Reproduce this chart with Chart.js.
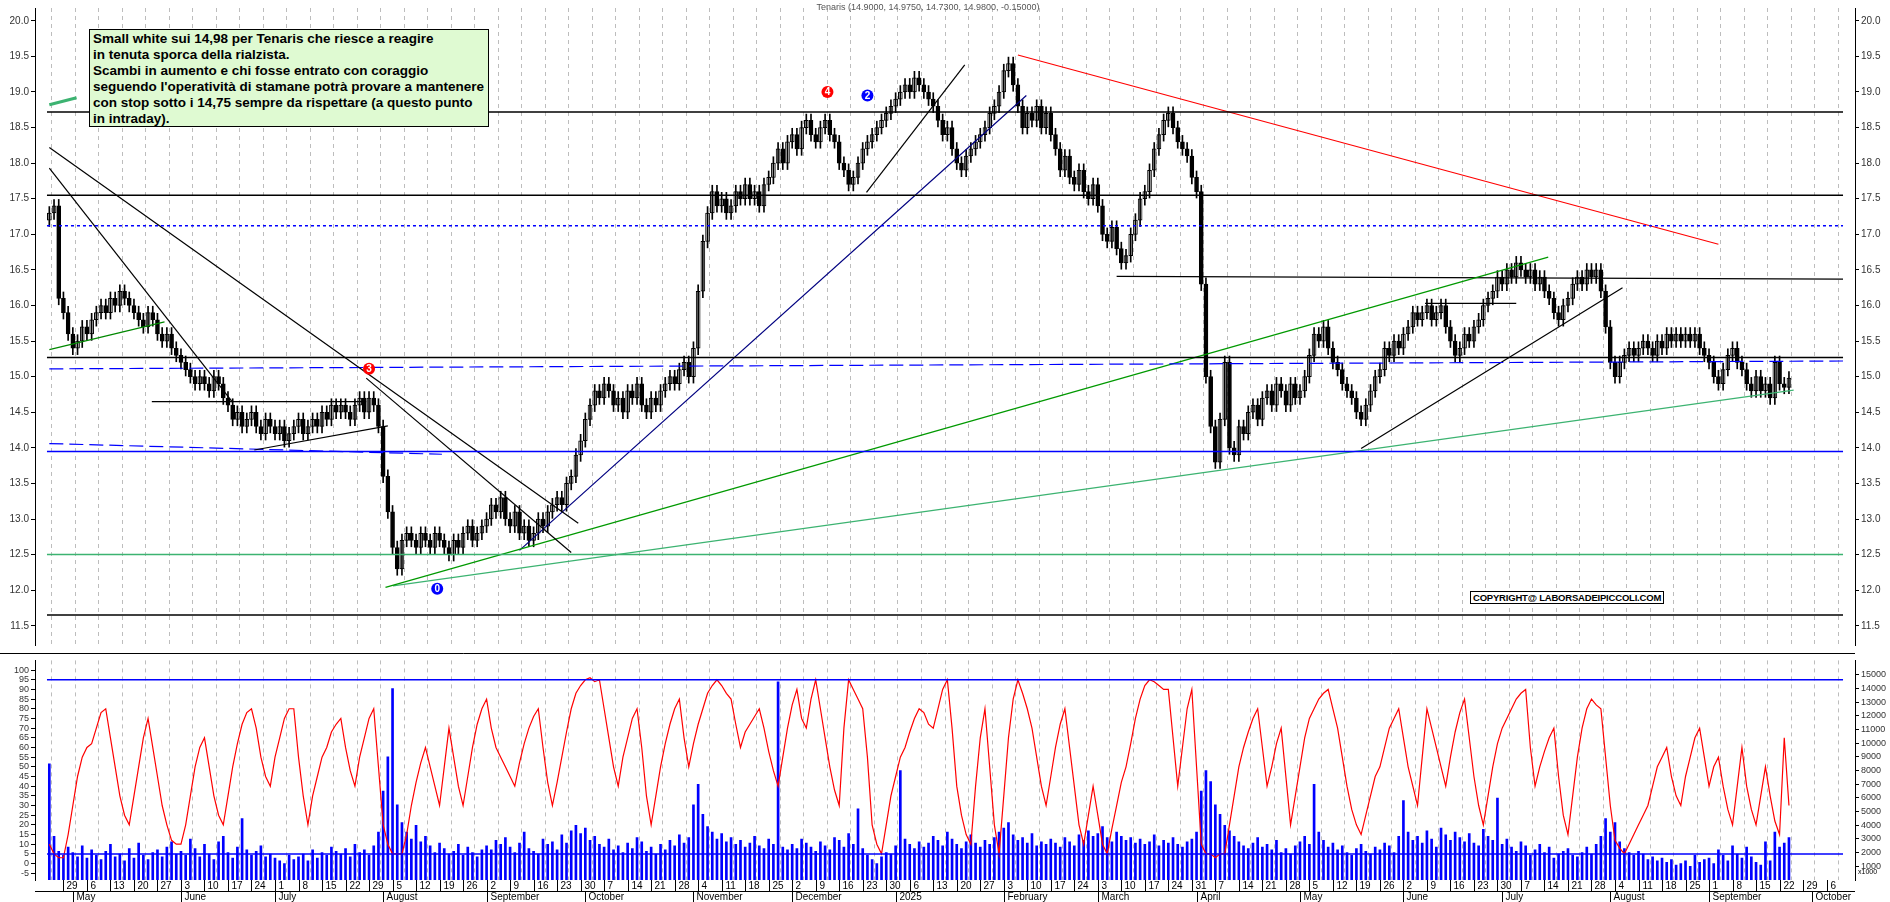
<!DOCTYPE html>
<html><head><meta charset="utf-8">
<script src="https://cdn.jsdelivr.net/npm/chart.js@4"></script>
<style>
body{margin:0;background:#fff;width:1890px;height:902px;overflow:hidden;position:relative;font-family:'Liberation Sans',Arial,sans-serif}
.w{position:absolute;left:0}
#note{position:absolute;left:89px;top:29px;width:400px;height:98px;background:#dffad2;border:1px solid #000;font:bold 13.5px 'Liberation Sans',Arial,sans-serif;line-height:16px;padding:1px 3px;box-sizing:border-box;color:#000;white-space:nowrap}
#title{position:absolute;left:0;width:1856px;top:2px;text-align:center;font:9px 'Liberation Sans',Arial,sans-serif;color:#555}
#copy{position:absolute;left:1470px;top:591px;border:1px solid #000;background:#fff;font:bold 9.5px 'Liberation Sans',Arial,sans-serif;padding:0 2px;line-height:11px;letter-spacing:-0.2px}
</style></head><body>
<div class="w" style="top:0;width:1890px;height:653px"><canvas id="a" width="1890" height="653"></canvas></div>
<div class="w" style="top:653px;width:1890px;height:249px"><canvas id="b" width="1890" height="249"></canvas></div>
<div id="title">Tenaris (14.9000, 14.9750, 14.7300, 14.9800, -0.15000)</div>
<div id="note">Small white sui 14,98 per Tenaris che riesce a reagire<br>in tenuta sporca della rialzista.<br>Scambi in aumento e chi fosse entrato con coraggio<br>seguendo l'operatività di stamane potrà provare a mantenere<br>con stop sotto i 14,75 sempre da rispettare (a questo punto<br>in intraday).</div>
<div id="copy">COPYRIGHT@ LABORSADEIPICCOLI.COM</div>
<script>
// ---- data ----
const closes = [
17.3,17.4,16.1,15.9,15.6,
15.4,15.5,15.7,15.6,15.8,15.9,16.0,15.9,16.1,16.0,16.2,16.1,16.0,15.9,15.8,15.7,15.9,15.8,15.6,15.5,15.6,15.4,15.3,
15.2,15.1,15.0,14.9,15.0,14.9,14.8,15.0,14.9,14.7,14.6,14.4,14.5,14.3,14.4,14.5,14.3,14.2,14.4,14.3,
14.2,14.3,14.1,14.2,14.3,14.4,14.2,14.3,14.4,14.3,14.5,14.4,14.6,14.5,14.6,14.5,14.4,14.6,14.7,14.5,14.7,14.6,14.3,
13.6,13.1,12.6,12.3,12.7,12.8,12.7,12.6,12.8,12.7,12.6,12.8,12.7,12.6,12.5,12.7,12.6,12.8,12.9,12.7,12.8,12.9,
13.0,13.2,13.1,13.3,13.0,12.9,13.1,12.8,12.9,12.7,12.8,13.0,12.9,13.1,13.2,13.3,13.2,13.5,13.6,13.9,14.1,
14.4,14.6,14.8,14.7,14.9,14.8,14.6,14.7,14.5,14.8,14.7,14.9,14.6,14.5,14.7,14.6,14.8,14.9,15.0,14.9,15.1,15.2,15.0,
15.4,16.2,16.9,17.3,17.6,17.4,17.5,17.3,17.4,17.6,17.5,17.7,17.5,17.6,17.4,17.7,17.8,18.0,18.2,18.0,18.3,
18.4,18.2,18.5,18.6,18.4,18.3,18.5,18.6,18.4,18.3,18.0,17.9,17.7,17.8,18.0,18.2,18.3,18.4,18.5,18.6,18.7,18.8,
18.9,19.0,19.1,19.0,19.2,19.1,19.0,18.9,18.8,18.6,18.4,18.5,18.2,18.0,17.9,18.1,18.2,18.3,18.4,18.5,18.7,18.8,19.0,
19.3,19.4,19.1,18.8,18.5,18.7,18.6,18.8,18.5,18.7,18.4,18.2,17.9,18.1,17.8,17.7,17.9,17.6,17.5,17.7,
17.4,17.0,16.9,17.1,16.8,16.6,16.7,17.0,17.2,17.5,17.6,17.9,18.2,18.4,18.6,18.7,18.5,18.3,18.2,18.1,17.8,
17.6,16.3,15.0,14.3,13.8,14.4,15.2,14.0,13.9,14.3,14.2,14.5,14.6,14.4,14.7,14.8,14.6,14.9,14.8,14.6,14.9,14.7,
14.8,15.0,15.3,15.6,15.5,15.7,15.4,15.2,15.1,14.9,14.8,14.7,14.5,14.4,14.6,14.8,15.0,15.1,15.4,15.3,15.5,15.4,
15.6,15.7,15.9,15.8,15.9,16.0,15.8,15.9,16.0,15.7,15.5,15.3,15.4,15.6,15.5,15.7,15.8,16.0,16.1,16.2,16.4,
16.3,16.5,16.4,16.6,16.5,16.4,16.5,16.3,16.4,16.2,16.1,15.9,15.8,16.0,16.1,16.3,16.4,16.3,16.5,16.4,16.5,16.2,15.7,
15.2,15.0,15.2,15.3,15.4,15.3,15.4,15.5,15.4,15.3,15.5,15.4,15.6,15.5,15.6,15.5,15.6,15.5,15.6,15.4,15.3,
15.2,15.0,14.9,15.1,15.3,15.4,15.2,15.1,14.9,14.8,15.0,14.8,14.9,14.7,15.2,14.9,14.85,14.98];
const volumes = [
8500,3200,2100,1800,2400,
2000,1700,2500,1600,2200,1800,1500,2100,2600,1700,1900,1400,2300,1600,2700,1800,1500,2000,2200,1700,2400,2800,1900,
2100,1800,3000,2300,1700,2600,1900,1500,2800,3200,2000,1600,2400,4500,2200,1800,2100,2500,1700,1900,
1600,1400,1200,1800,1500,1700,1900,1400,2200,1600,2000,1800,2400,2100,1900,2300,1700,2600,2000,2200,1800,2500,3500,
6500,9000,14000,5500,4200,3500,3000,4000,2800,3200,2500,2000,2700,2300,1900,2100,2600,1800,2400,2000,1700,2200,
2500,2200,2900,2600,3100,2400,2000,2700,3500,2300,2100,1900,3000,2600,2800,2200,3300,2700,3600,4000,3400,
3800,2900,3200,2600,2400,3000,2200,2500,2000,2700,2300,3100,2800,2100,2400,1900,2600,2200,2900,2500,3300,2700,3100,
5500,7000,4800,3900,3500,3000,3400,2800,3100,2600,2900,2400,2700,3200,2500,2300,3000,2600,14500,2400,2200,
2600,2300,3000,2700,2400,2100,2800,2500,2200,3100,2900,2400,3400,2600,5200,2300,1800,1500,1200,1700,2000,1900,
2500,8000,3000,2600,2300,2800,2400,2700,3200,2900,2500,3500,3000,2600,2300,2800,3300,2700,2400,2900,2600,3100,3500,
3800,4200,3300,2900,3100,2700,3400,2500,2800,2600,3000,2700,2400,3100,2800,2500,3300,2900,3600,3200,
3400,3900,3100,2800,3500,3200,2900,3100,2700,3000,2600,2800,3300,2500,2900,2700,3100,2600,2400,2800,3000,
3500,6500,8000,7200,5500,4800,4000,3600,3200,2800,2500,2300,2700,3100,2400,2600,2200,2900,2000,2300,1900,2500,
2800,3200,2600,7000,3500,2900,2400,2700,2200,2500,2000,1800,2300,2600,2100,1900,2400,2200,2700,2500,2000,3200,
5800,3500,2900,3200,2700,3600,3000,2400,3800,3300,2900,3500,3100,2800,3400,2700,2500,3700,3200,2900,6000,
2600,3000,2400,2100,2800,2500,1800,2200,2600,2000,2400,1600,1900,2100,2300,1800,1700,2000,2400,1900,2600,3200,4500,
3500,4200,2800,2300,2000,1800,2100,1900,1500,1700,1400,1600,1300,1500,1100,1200,1400,1000,1800,1300,1500,
1600,1200,2200,1800,1400,2500,1900,1600,2400,1700,1300,1100,2800,1400,3500,2400,2700,3100];
const oscillator = [
10,5,3,3, 15,30,45,55,60,62, 70,78,80, 65,50,35,25,20, 35,50,65,75, 60,45,30,20,12,10,10,
20,35,50,60,65, 50,35,25,20, 35,50,62,72,78,80, 70,55,45,40, 55,65,75,80,80, 55,35,20,
35,45,55,60, 68,72,75, 60,48,40, 55,65,75,80, 50,20, 10,5,5,5, 15,30,42,52,60, 50,40,30,
50,70, 55,40,30, 45,60,72,80,85, 70,60, 55,50,45,40, 52,62,70,76,80, 60,42,30,
42,55,68,80,88,92,95,96,94,95, 80,65,50,40, 55,65,75,80, 60,35,20, 35,50,62,72,80,85, 65,50,
62,72,80,88,92,95, 92,88,85,72,60, 68,72,76,80, 70,58,48,40, 55,70,82,90, 75,70,85,95,
80,65,50,38,30, 70,95, 90,85,80,55,20, 10,5, 20,35,45,55,60, 68,75,80,78,72,70, 80,90,95,
70,40,25,15,10, 40,65,80, 50,20,5, 35,65,85,95, 88,80,70,55,40,30, 45,60,72,80, 60,40,20,10,
25,40, 25,10,5, 18,30,42,50, 62,75,85,92,95, 94,92,90,90, 65,40, 60,80,90, 50,10,
5,5,3,5,5, 20,35,50,60, 68,75,80, 60,40, 50,62,70, 45,20, 35,50,65,75, 80,85,88,90, 80,70,
55,40,28,20,15, 25,35,45,50, 60,70,75,80, 65,50,40,30, 55,80, 70,60,50,40, 55,68,78,85,
65,45,30,20, 35,50,62,70, 75,80,85,88,90, 60,40, 50,58,65,70, 45,25,15, 35,55,70,80,85,
82,80, 55,30,12,8,5, 10,15,20,25,30, 40,50,55,60, 45,35,30, 45,55,65,70, 55,40, 50,55,
40,28,20, 40,60, 40,28,20, 35,50, 35,22,15, 65,30];
const priceTicks = [11.5,12.0,12.5,13.0,13.5,14.0,14.5,15.0,15.5,16.0,16.5,17.0,17.5,18.0,18.5,19.0,19.5,20.0];
const oscTicks = [-5,0,5,10,15,20,25,30,35,40,45,50,55,60,65,70,75,80,85,90,95,100];
const volTicks = [1000,2000,3000,4000,5000,6000,7000,8000,9000,10000,11000,12000,13000,14000,15000];
// trend lines: [dayFrom, priceFrom, dayTo, priceTo, color, dash]
const trendLines = [
 [0,18.22,112.5,12.94,'#000',null],
 [0,17.93,39,14.64,'#000',null],
 [67.4,14.98,111,12.53,'#000',null],
 [0,15.38,24.5,15.77,'#080',null],
 [21.8,14.65,67.4,14.65,'#000',null],
 [43.6,13.97,72,14.31,'#000',null],
 [0,15.11,381.5,15.22,'#0000ff',[14,6]],
 [0,14.06,83.5,13.91,'#0000ff',[14,6]],
 [71.5,12.04,318.8,16.68,'#009900',null],
 [73.1,12.06,371,14.81,'#3cb371',null],
 [100,12.56,207.8,18.95,'#000080',null],
 [173.8,17.59,194.7,19.38,'#000',null],
 [206,19.52,355,16.86,'#ff0000',null],
 [227,16.41,381.5,16.37,'#000',null],
 [292.6,16.03,312,16.03,'#000',null],
 [279,13.99,334.6,16.25,'#000',null],
 [0,18.82,5.8,18.92,'#3cb371',null]
];
// full-width levels: [price, color, dash]
const levels = [[18.72,'#000',null],[17.55,'#000',null],[17.12,'#0000ff',[3,3]],[15.27,'#000',null],[13.95,'#0000ff',null],[12.5,'#3cb371',null],[11.65,'#000',null]];
const markers = [[165.5,19.0,'4','#ff0000'],[174,18.95,'2','#0000ff'],[68,15.11,'3','#ff0000'],[82.5,12.02,'0','#0000ff']];
const monthNames = ['January','February','March','April','May','June','July','August','September','October','November','December'];

// ---- trading calendar ----
const N = 382;
const dates = [];
{let d = new Date(Date.UTC(2024,3,24)); while(dates.length<N){const w=d.getUTCDay(); if(w>0&&w<6) dates.push(new Date(d)); d.setUTCDate(d.getUTCDate()+1);}}
const mondays = [], monthStarts = [];
dates.forEach((d,i)=>{ if(d.getUTCDay()===1) mondays.push(i); if(i>0 && d.getUTCMonth()!==dates[i-1].getUTCMonth()) monthStarts.push(i); });

// candles
const opens = closes.map((c,i)=> i===0 ? 17.2 : closes[i-1]);
const wick = closes.map((c,i)=>({x:i,y:[Math.min(opens[i],c)-0.09,Math.max(opens[i],c)+0.09]}));
const body = closes.map((c,i)=>({x:i,y:[opens[i],c===opens[i]?c+0.01:c]}));
const bodyColor = closes.map((c,i)=> c>=opens[i] ? '#fff' : '#000');

const XMIN=-0.5, XMAX=N-0.5, PMIN=11.23, PMAX=20.18;
const font = {family:"'Liberation Sans', Arial, sans-serif", size:10};

const ds = [];
levels.forEach(l=>ds.push({type:'line',data:[{x:XMIN,y:l[0]},{x:XMAX,y:l[0]}],borderColor:l[1],borderWidth:l[1]==='#000'?1.5:1.5,borderDash:l[2]||[],pointRadius:0,yAxisID:'y'}));
trendLines.forEach(t=>ds.push({type:'line',data:[{x:t[0],y:t[1]},{x:t[2],y:t[3]}],borderColor:t[4],borderWidth:t[4]==='#3cb371'&&t[2]<10?3:1.2,borderDash:t[5]||[],pointRadius:0,yAxisID:'y'}));
ds.push({type:'bar',data:wick,backgroundColor:'#000',barThickness:1,grouped:false,yAxisID:'y'});
ds.push({type:'bar',data:body,backgroundColor:bodyColor,borderColor:'#000',borderWidth:1,borderSkipped:false,barThickness:4,grouped:false,yAxisID:'y'});

const markerPlugin = {id:'mk',afterDatasetsDraw(c){const x=c.scales.x,y=c.scales.y,ctx=c.ctx;ctx.save();
 markers.forEach(m=>{const px=x.getPixelForValue(m[0]),py=y.getPixelForValue(m[1]);ctx.beginPath();ctx.arc(px,py,6,0,Math.PI*2);ctx.fillStyle=m[3];ctx.fill();ctx.fillStyle='#fff';ctx.font="bold 10px 'Liberation Sans',Arial";ctx.textAlign='center';ctx.textBaseline='middle';ctx.fillText(m[2],px,py+0.5);});
 ctx.restore();}};

function yAxis(pos, ticks, fmt){return {position:pos,min:ticks===priceTicks?PMIN:undefined,
 afterBuildTicks:s=>{s.ticks=ticks.map(v=>({value:v}))},
 ticks:{callback:fmt,font:font,color:'#333',padding:2,autoSkip:false},
 grid:{display:true,drawOnChartArea:false,drawTicks:true,tickLength:4,color:'#000'},
 border:{display:true,color:'#000',width:1},afterFit:s=>{s.width=35}};}

const xGrid = {type:'linear',min:XMIN,max:XMAX,afterBuildTicks:s=>{s.ticks=mondays.map(v=>({value:v}))},
 ticks:{display:false},grid:{color:'#bdbdbd',drawTicks:false,lineWidth:1},border:{display:false,dash:[4,4]},afterFit:s=>{s.height=0}};

const yl = yAxis('left',priceTicks,v=>v.toFixed(1)); yl.min=PMIN; yl.max=PMAX;
const yr = yAxis('right',priceTicks,v=>v.toFixed(1)); yr.min=PMIN; yr.max=PMAX;

new Chart(document.getElementById('a'),{data:{datasets:ds},plugins:[markerPlugin],
 options:{responsive:false,animation:false,events:[],layout:{padding:0},plugins:{legend:{display:false},tooltip:{enabled:false}},
 scales:{x:xGrid,yl:yl,y:yr}}});

// ---- lower chart ----
const axisText = {id:'ax',afterDraw(c){const ctx=c.ctx,x=c.scales.x,a=c.chartArea;ctx.save();
 ctx.strokeStyle='#000';ctx.lineWidth=1;ctx.fillStyle='#000';ctx.font="10px 'Liberation Sans',Arial";ctx.textBaseline='middle';ctx.textAlign='left';
 const y0=a.bottom, y1=a.bottom+11, y2=a.bottom+22;
 ctx.beginPath();ctx.moveTo(a.left,y1+0.5);ctx.lineTo(a.right,y1+0.5);ctx.stroke();
 ctx.beginPath();ctx.moveTo(0,0.5);ctx.lineTo(a.right,0.5);ctx.stroke();
 mondays.forEach(i=>{const px=Math.round(x.getPixelForValue(i))+0.5;ctx.beginPath();ctx.moveTo(px,y0);ctx.lineTo(px,y1);ctx.stroke();ctx.fillText(String(dates[i].getUTCDate()),px+3,y0+6);});
 monthStarts.forEach(i=>{const px=Math.round(x.getPixelForValue(i))+0.5;const m=dates[i].getUTCMonth();ctx.beginPath();ctx.moveTo(px,y1);ctx.lineTo(px,y2);ctx.stroke();ctx.fillText(m===0?String(dates[i].getUTCFullYear()):monthNames[m],px+3,y1+6);});
 ctx.font="7px 'Liberation Sans',Arial";ctx.fillText('x1000',a.right+3,a.bottom-8);
 ctx.restore();}};

const ya = yAxis('left',oscTicks,v=>String(v)); ya.min=-8.5; ya.max=105; ya.ticks.font={family:font.family,size:9};
const yv = yAxis('right',volTicks,v=>String(v)); yv.min=0; yv.max=16060; yv.ticks.font={family:font.family,size:9};
const xb = Object.assign({},xGrid,{afterFit:s=>{s.height=22}});

new Chart(document.getElementById('b'),{data:{datasets:[
 {type:'line',data:[{x:XMIN,y:95},{x:XMAX,y:95}],borderColor:'#0000ff',borderWidth:1.5,pointRadius:0,yAxisID:'ya'},
 {type:'line',data:[{x:XMIN,y:5},{x:XMAX,y:5}],borderColor:'#0000ff',borderWidth:1.5,pointRadius:0,yAxisID:'ya'},
 {type:'line',data:oscillator.map((v,i)=>({x:i,y:v})),borderColor:'#ff0000',borderWidth:1.2,pointRadius:0,tension:0,yAxisID:'ya'},
 {type:'bar',data:volumes.map((v,i)=>({x:i,y:v})),backgroundColor:'#0000ff',barThickness:2,grouped:false,yAxisID:'yv'}
]},plugins:[axisText],
 options:{responsive:false,animation:false,events:[],layout:{padding:0},plugins:{legend:{display:false},tooltip:{enabled:false}},
 scales:{x:xb,ya:ya,yv:yv}}});
</script>
</body></html>
